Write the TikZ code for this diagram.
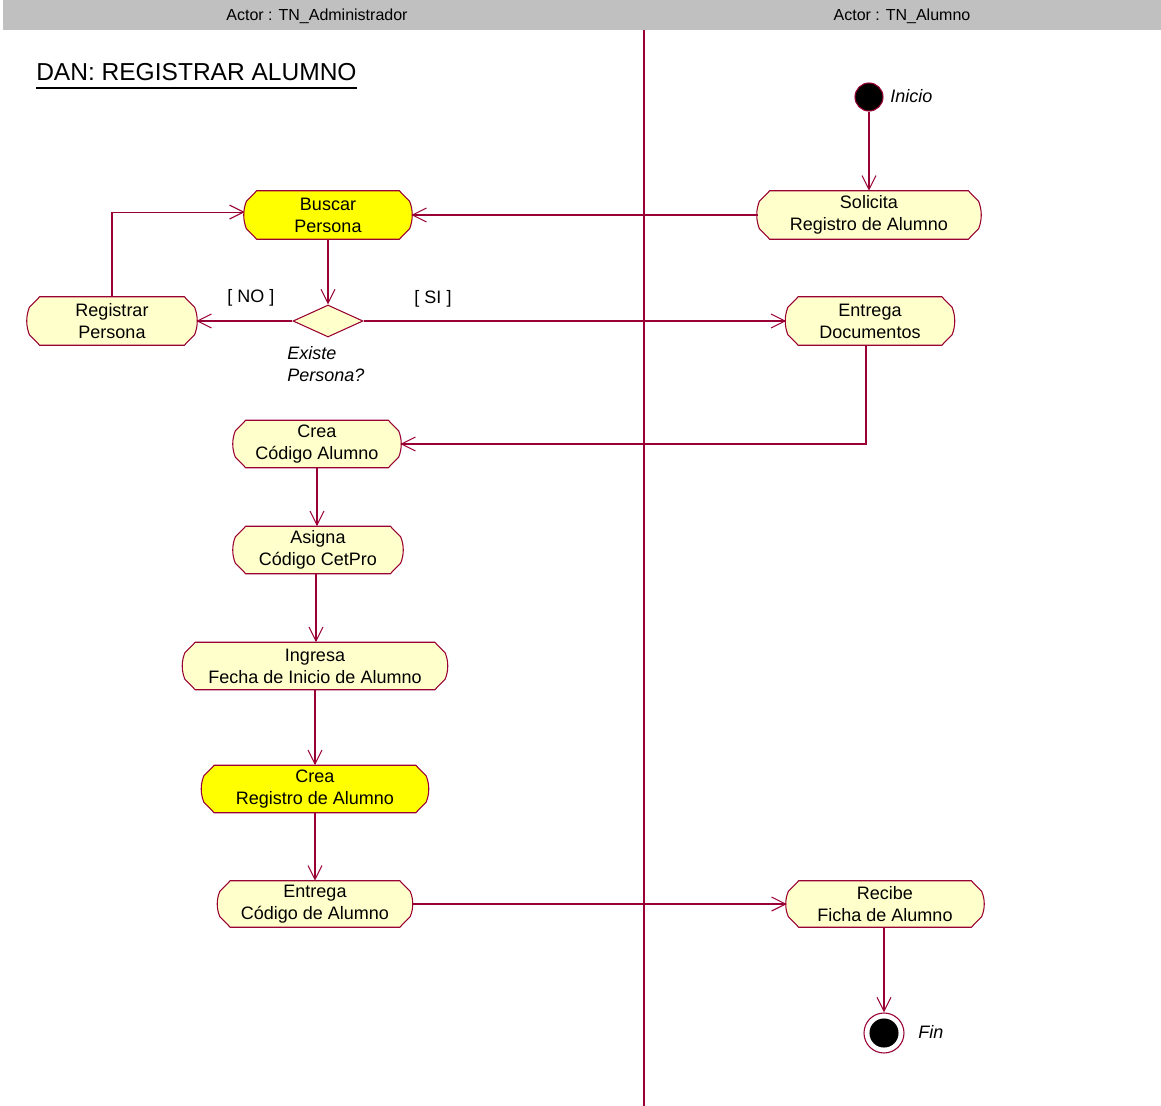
\documentclass[tikz,border=0pt]{standalone}
\usepackage{fontspec}
\setmainfont{Liberation Sans}
\usetikzlibrary{arrows.meta,shapes.geometric,backgrounds}

\definecolor{umlline}{HTML}{990033}
\definecolor{actfill}{HTML}{FFFFCC}
\definecolor{actmark}{HTML}{FFFF00}
\definecolor{lanegray}{HTML}{C0C0C0}

\tikzset{
  act/.style n args={2}{minimum width=#1*0.75pt, minimum height=#2*0.75pt,
    inner sep=0pt, align=center, font=\fontsize{13.5}{16.5}\selectfont},
  decision/.style={diamond, draw=umlline, fill=actfill, line width=0.8pt,
    minimum width=52.5pt, minimum height=24pt, inner sep=0pt},
  initial/.style={circle, draw=umlline, fill=black, line width=0.8pt,
    minimum size=21pt, inner sep=0pt},
  final/.style={circle, draw=umlline, fill=white, line width=0.8pt,
    minimum size=30pt, inner sep=0pt,
    path picture={\fill[black] (path picture bounding box.center) circle (10.9pt);}},
  flow/.style={draw=umlline, line width=0.8pt,
    -{Straight Barb[length=10.5pt,width=10.5pt,line width=0.8pt]}},
  lbl/.style={inner sep=0pt, font=\fontsize{13.5}{16.5}\selectfont},
  ilbl/.style={lbl, font=\fontsize{13.5}{16.5}\selectfont\itshape},
  lanehead/.style={inner sep=0pt, font=\fontsize{12}{14}\selectfont},
}

% outline of an activity state: flat top and bottom, chamfered corners,
% rounded sides
\newcommand\actoutline[2]{%
  \filldraw[draw=umlline, line width=0.8pt, fill=#2]
    ([xshift=9pt]#1.north west) -- ([xshift=-9pt]#1.north east)
    -- ([xshift=-1.2pt,yshift=-8pt]#1.north east)
    .. controls ([xshift=1.4pt,yshift=3.5pt]#1.east) and ([xshift=1.4pt,yshift=-3.5pt]#1.east) ..
    ([xshift=-1.2pt,yshift=8pt]#1.south east)
    -- ([xshift=-9pt]#1.south east) -- ([xshift=9pt]#1.south west)
    -- ([xshift=1.2pt,yshift=8pt]#1.south west)
    .. controls ([xshift=-1.4pt,yshift=-3.5pt]#1.west) and ([xshift=-1.4pt,yshift=3.5pt]#1.west) ..
    ([xshift=1.2pt,yshift=-8pt]#1.north west) -- cycle;}

\begin{document}
\begin{tikzpicture}[x=0.75pt,y=-0.75pt]
  \useasboundingbox (0,0) rectangle (1161,1106);

  % swimlane header and separator
  \fill[lanegray] (3,0) rectangle (1161,30);
  \node[lanehead] (laneA) at (317,16) {Actor : TN\_Administrador};
  \node[lanehead] (laneB) at (902,16) {Actor : TN\_Alumno};
  \draw[umlline, line width=0.8pt] (644,30) -- (644,1106);

  % title
  \node[inner sep=0pt, anchor=base west, font=\fontsize{18.4}{20}\selectfont] (title) at (36,81) {DAN: REGISTRAR ALUMNO};
  \draw[line width=1.6pt] ([yshift=-5.5pt]title.base west) -- ([yshift=-5.5pt]title.base east);

  % activity states
  \node[act={222}{48}] (solicita) at (869,215) {Solicita\\Registro de Alumno};
  \node[act={166}{48}] (buscar)   at (328,215) {Buscar\\Persona};
  \node[act={168}{48}] (registrar) at (112,321) {Registrar\\Persona};
  \node[act={167}{48}] (entdoc)   at (870,321) {Entrega\\Documentos};
  \node[act={166}{47}] (creacod)  at (317,444) {Crea\\Código Alumno};
  \node[act={168}{47}] (asigna)   at (318,550) {Asigna\\Código CetPro};
  \node[act={263}{47}] (ingresa)  at (315,666) {Ingresa\\Fecha de Inicio de Alumno};
  \node[act={225}{47}] (creareg)  at (315,789) {Crea\\Registro de Alumno};
  \node[act={193}{46}] (entcod)   at (315,904) {Entrega\\Código de Alumno};
  \node[act={196}{46}] (recibe)   at (885,904) {Recibe\\Ficha de Alumno};

  \begin{scope}[on background layer]
    \actoutline{solicita}{actfill}
    \actoutline{buscar}{actmark}
    \actoutline{registrar}{actfill}
    \actoutline{entdoc}{actfill}
    \actoutline{creacod}{actfill}
    \actoutline{asigna}{actfill}
    \actoutline{ingresa}{actfill}
    \actoutline{creareg}{actmark}
    \actoutline{entcod}{actfill}
    \actoutline{recibe}{actfill}
  \end{scope}

  % decision, start and end
  \node[decision] (existe) at (328,321) {};
  \node[initial] (inicio) at (869,97) {};
  \node[final] (fin) at (884,1033) {};

  % labels
  \node[ilbl, anchor=west] (inicioLbl) at (890,96) {Inicio};
  \node[ilbl, anchor=west] (finLbl) at (918,1032) {Fin};
  \node[ilbl, anchor=north west, align=left] (existeLbl) at (287,346) {Existe\\Persona?};
  \node[lbl] (noLbl) at (251,298) {[ NO ]};
  \node[lbl] (siLbl) at (433,299) {[ SI ]};

  % transitions
  \draw[flow] (inicio) -- (solicita);
  \draw[flow] (solicita) -- (buscar);
  \draw[flow] (buscar) -- (existe);
  \draw[flow] (existe) -- (registrar);
  \draw[flow] (registrar.north) |- ([yshift=2.2pt]buscar.west);
  \draw[flow] (existe) -- (entdoc);
  \draw[flow] ([xshift=-3pt]entdoc.south) |- (creacod.east);
  \draw[flow] (creacod.south) -- (creacod.south |- asigna.north);
  \draw[flow] ([xshift=-1.5pt]asigna.south) -- ([xshift=-1.5pt]asigna.south |- ingresa.north);
  \draw[flow] (ingresa) -- (creareg);
  \draw[flow] (creareg) -- (entcod);
  \draw[flow] (entcod) -- (recibe);
  \draw[flow] (recibe.south -| fin.north) -- (fin);
\end{tikzpicture}
\end{document}
